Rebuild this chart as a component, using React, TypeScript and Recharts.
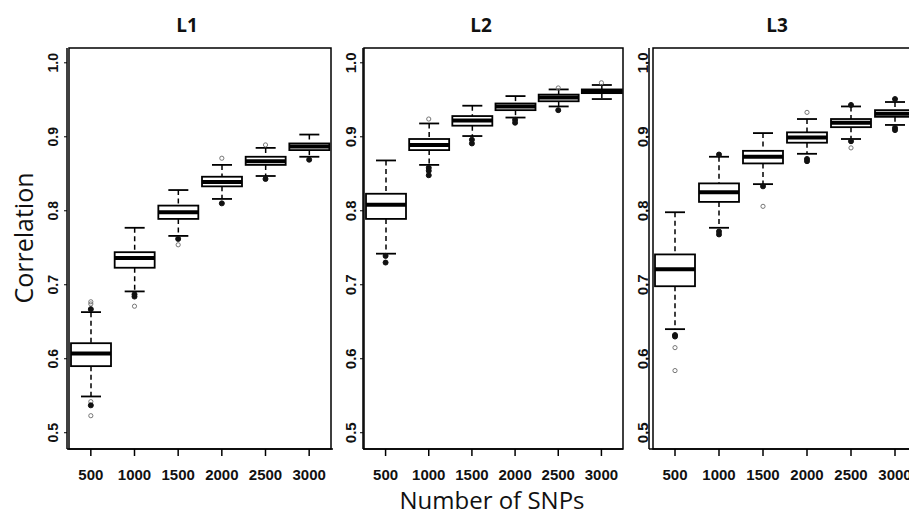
import { ComposedChart, Bar, Scatter, XAxis, YAxis, ReferenceArea } from 'recharts'

// Number of SNPs used
const categories = ['500', '1000', '1500', '2000', '2500', '3000']

const yTicks = [0.5, 0.6, 0.7, 0.8, 0.9, 1.0]
const yDomain: [number, number] = [0.478, 1.02]

// L1: whisker ends, quartiles and medians
const l1Low = [0.549, 0.691, 0.766, 0.816, 0.847, 0.873]
const l1Q1 = [0.59, 0.723, 0.789, 0.833, 0.862, 0.882]
const l1Med = [0.607, 0.736, 0.798, 0.839, 0.867, 0.887]
const l1Q3 = [0.621, 0.744, 0.807, 0.846, 0.873, 0.891]
const l1High = [0.663, 0.777, 0.828, 0.862, 0.885, 0.903]
// [category, value, overlapping points]
const l1Outliers: [string, number, number][] = [
  ['500', 0.677, 1], ['500', 0.674, 1], ['500', 0.667, 2], ['500', 0.542, 1], ['500', 0.537, 2], ['500', 0.523, 1],
  ['1000', 0.687, 2], ['1000', 0.684, 2], ['1000', 0.671, 1],
  ['1500', 0.762, 2], ['1500', 0.754, 1],
  ['2000', 0.871, 1], ['2000', 0.81, 2],
  ['2500', 0.889, 1], ['2500', 0.843, 2],
  ['3000', 0.869, 2],
]

// L2
const l2Low = [0.742, 0.862, 0.901, 0.926, 0.941, 0.951]
const l2Q1 = [0.789, 0.882, 0.915, 0.936, 0.948, 0.959]
const l2Med = [0.808, 0.889, 0.922, 0.941, 0.953, 0.962]
const l2Q3 = [0.823, 0.897, 0.928, 0.945, 0.957, 0.964]
const l2High = [0.868, 0.918, 0.942, 0.955, 0.964, 0.97]
const l2Outliers: [string, number, number][] = [
  ['500', 0.739, 2], ['500', 0.73, 2],
  ['1000', 0.924, 1], ['1000', 0.858, 2], ['1000', 0.854, 2], ['1000', 0.848, 2],
  ['1500', 0.896, 2], ['1500', 0.891, 2],
  ['2000', 0.923, 2], ['2000', 0.919, 2],
  ['2500', 0.966, 1], ['2500', 0.936, 2],
  ['3000', 0.973, 1],
]

// L3
const l3Low = [0.64, 0.777, 0.836, 0.877, 0.897, 0.916]
const l3Q1 = [0.698, 0.812, 0.864, 0.892, 0.913, 0.927]
const l3Med = [0.721, 0.825, 0.873, 0.899, 0.919, 0.931]
const l3Q3 = [0.741, 0.837, 0.881, 0.906, 0.924, 0.936]
const l3High = [0.798, 0.873, 0.905, 0.924, 0.941, 0.947]
const l3Outliers: [string, number, number][] = [
  ['500', 0.632, 2], ['500', 0.63, 2], ['500', 0.615, 1], ['500', 0.584, 1],
  ['1000', 0.876, 2], ['1000', 0.772, 2], ['1000', 0.768, 2],
  ['1500', 0.833, 2], ['1500', 0.806, 1],
  ['2000', 0.933, 1], ['2000', 0.87, 2], ['2000', 0.867, 2],
  ['2500', 0.943, 2], ['2500', 0.894, 2], ['2500', 0.885, 1],
  ['3000', 0.951, 2], ['3000', 0.912, 2], ['3000', 0.909, 2],
]

const toRows = (lo: number[], q1: number[], med: number[], q3: number[], hi: number[]) =>
  categories.map((n, i) => ({ n, lo: lo[i], q1: q1[i], med: med[i], q3: q3[i], hi: hi[i] }))

const toPoints = (list: [string, number, number][]) => list.map(([n, v, k]) => ({ n, v, k }))

const NARROW = "'Liberation Sans Narrow', 'Arial Narrow', 'Liberation Sans', Arial, sans-serif"
const TITLE_FONT = "'Open Sans', 'Noto Sans', sans-serif"

function BoxShape(props: any) {
  const { x, y, width, height, payload } = props
  if (!payload || x == null || y == null) return null
  const top = Math.min(y, y + height)
  const bottom = Math.max(y, y + height)
  const span = payload.hi - payload.lo
  const py = (v: number) => bottom - ((v - payload.lo) / span) * (bottom - top)
  const cx = x + width / 2
  const cap = width / 4
  return (
    <g>
      <line x1={cx} x2={cx} y1={py(payload.hi)} y2={py(payload.q3)} stroke="#000" strokeWidth={1.5} strokeDasharray="5 3.5" />
      <line x1={cx} x2={cx} y1={py(payload.q1)} y2={py(payload.lo)} stroke="#000" strokeWidth={1.5} strokeDasharray="5 3.5" />
      <line x1={cx - cap} x2={cx + cap} y1={py(payload.hi)} y2={py(payload.hi)} stroke="#000" strokeWidth={1.8} />
      <line x1={cx - cap} x2={cx + cap} y1={py(payload.lo)} y2={py(payload.lo)} stroke="#000" strokeWidth={1.8} />
      <rect x={x} y={py(payload.q3)} width={width} height={py(payload.q1) - py(payload.q3)} fill="#fff" stroke="#000" strokeWidth={1.8} />
      <line x1={x} x2={x + width} y1={py(payload.med)} y2={py(payload.med)} stroke="#000" strokeWidth={4} />
    </g>
  )
}

function OutlierDot(props: any) {
  const { cx, cy, payload } = props
  if (cx == null || cy == null) return null
  const heavy = payload && payload.k > 1
  return <circle cx={cx} cy={cy} r={heavy ? 2.5 : 2.1} fill={heavy ? '#111' : 'none'} stroke={heavy ? '#111' : '#777'} strokeWidth={1} />
}

function XTick(props: any) {
  const { x, y, payload } = props
  return (
    <text x={x} y={y + 22} textAnchor="middle" fontFamily={NARROW} fontWeight="bold" fontSize={15} fill="#111">
      {payload.value}
    </text>
  )
}

interface PanelConfig {
  left: number
  yAxisWidth: number
  plotWidth: number
  padL: number
  padR: number
  yLabelShift: number
  yLabelSize: number
  rows: ReturnType<typeof toRows>
  outliers: ReturnType<typeof toPoints>
}

const panels: PanelConfig[] = [
  { left: 0, yAxisWidth: 67, plotWidth: 266, padL: 2, padR: 2, yLabelShift: 9, yLabelSize: 14, rows: toRows(l1Low, l1Q1, l1Med, l1Q3, l1High), outliers: toPoints(l1Outliers) },
  { left: 333, yAxisWidth: 30, plotWidth: 260, padL: 1, padR: 0, yLabelShift: 7, yLabelSize: 15, rows: toRows(l2Low, l2Q1, l2Med, l2Q3, l2High), outliers: toPoints(l2Outliers) },
  { left: 619, yAxisWidth: 30, plotWidth: 268, padL: 4, padR: 0, yLabelShift: 1, yLabelSize: 15, rows: toRows(l3Low, l3Q1, l3Med, l3Q3, l3High), outliers: toPoints(l3Outliers) },
]

function Panel({ cfg }: { cfg: PanelConfig }) {
  const YTick = (p: any) => {
    const tx = p.x - cfg.yLabelShift
    return (
      <text
        x={tx}
        y={p.y}
        transform={`rotate(-90 ${tx} ${p.y})`}
        textAnchor="middle"
        dominantBaseline="central"
        fontFamily={NARROW}
        fontWeight="bold"
        fontSize={cfg.yLabelSize}
        fill="#111"
      >
        {p.payload.value.toFixed(1)}
      </text>
    )
  }
  return (
    <div style={{ position: 'absolute', left: cfg.left, top: 0 }}>
      <ComposedChart
        width={cfg.yAxisWidth + cfg.plotWidth + 3}
        height={516}
        data={cfg.rows}
        margin={{ top: 48, right: 3, bottom: 0, left: 0 }}
      >
        <XAxis
          dataKey="n"
          type="category"
          allowDuplicatedCategory={false}
          height={67}
          interval={0}
          padding={{ left: cfg.padL, right: cfg.padR }}
          tickSize={7}
          axisLine={{ stroke: '#000', strokeWidth: 1.5 }}
          tickLine={{ stroke: '#000', strokeWidth: 1.5 }}
          tick={<XTick />}
        />
        <YAxis
          type="number"
          domain={yDomain}
          allowDataOverflow
          ticks={yTicks}
          interval={0}
          width={cfg.yAxisWidth}
          tickSize={3}
          axisLine={{ stroke: '#000', strokeWidth: 1.5 }}
          tickLine={{ stroke: '#000', strokeWidth: 1 }}
          tick={YTick}
        />
        <ReferenceArea y1={yDomain[0]} y2={yDomain[1]} fill="none" stroke="#000" strokeWidth={1.5} />
        <Bar dataKey={(d: any) => [d.lo, d.hi]} barSize={40} shape={<BoxShape />} isAnimationActive={false} />
        <Scatter data={cfg.outliers} dataKey="v" shape={<OutlierDot />} isAnimationActive={false} />
      </ComposedChart>
    </div>
  )
}

export default function App() {
  return (
    <div style={{ position: 'fixed', left: 0, top: 0, width: 909, height: 516, overflow: 'hidden', background: '#fff' }}>
      {panels.map((cfg, i) => (
        <Panel key={i} cfg={cfg} />
      ))}
      <svg width={909} height={516} style={{ position: 'absolute', left: 0, top: 0, pointerEvents: 'none' }}>
        <g fontFamily={TITLE_FONT} fontWeight="bold" fontSize={19} fill="#111" textAnchor="middle">
          <text x={187} y={32}>L1</text>
          <text x={481} y={32}>L2</text>
          <text x={777} y={32}>L3</text>
        </g>
        <text x={33} y={238} transform="rotate(-90 33 238)" textAnchor="middle" fontFamily={TITLE_FONT} fontSize={25} fill="#111">
          Correlation
        </text>
        <text x={492} y={509} textAnchor="middle" fontFamily={TITLE_FONT} fontSize={24} fill="#111">
          Number of SNPs
        </text>
      </svg>
    </div>
  )
}
